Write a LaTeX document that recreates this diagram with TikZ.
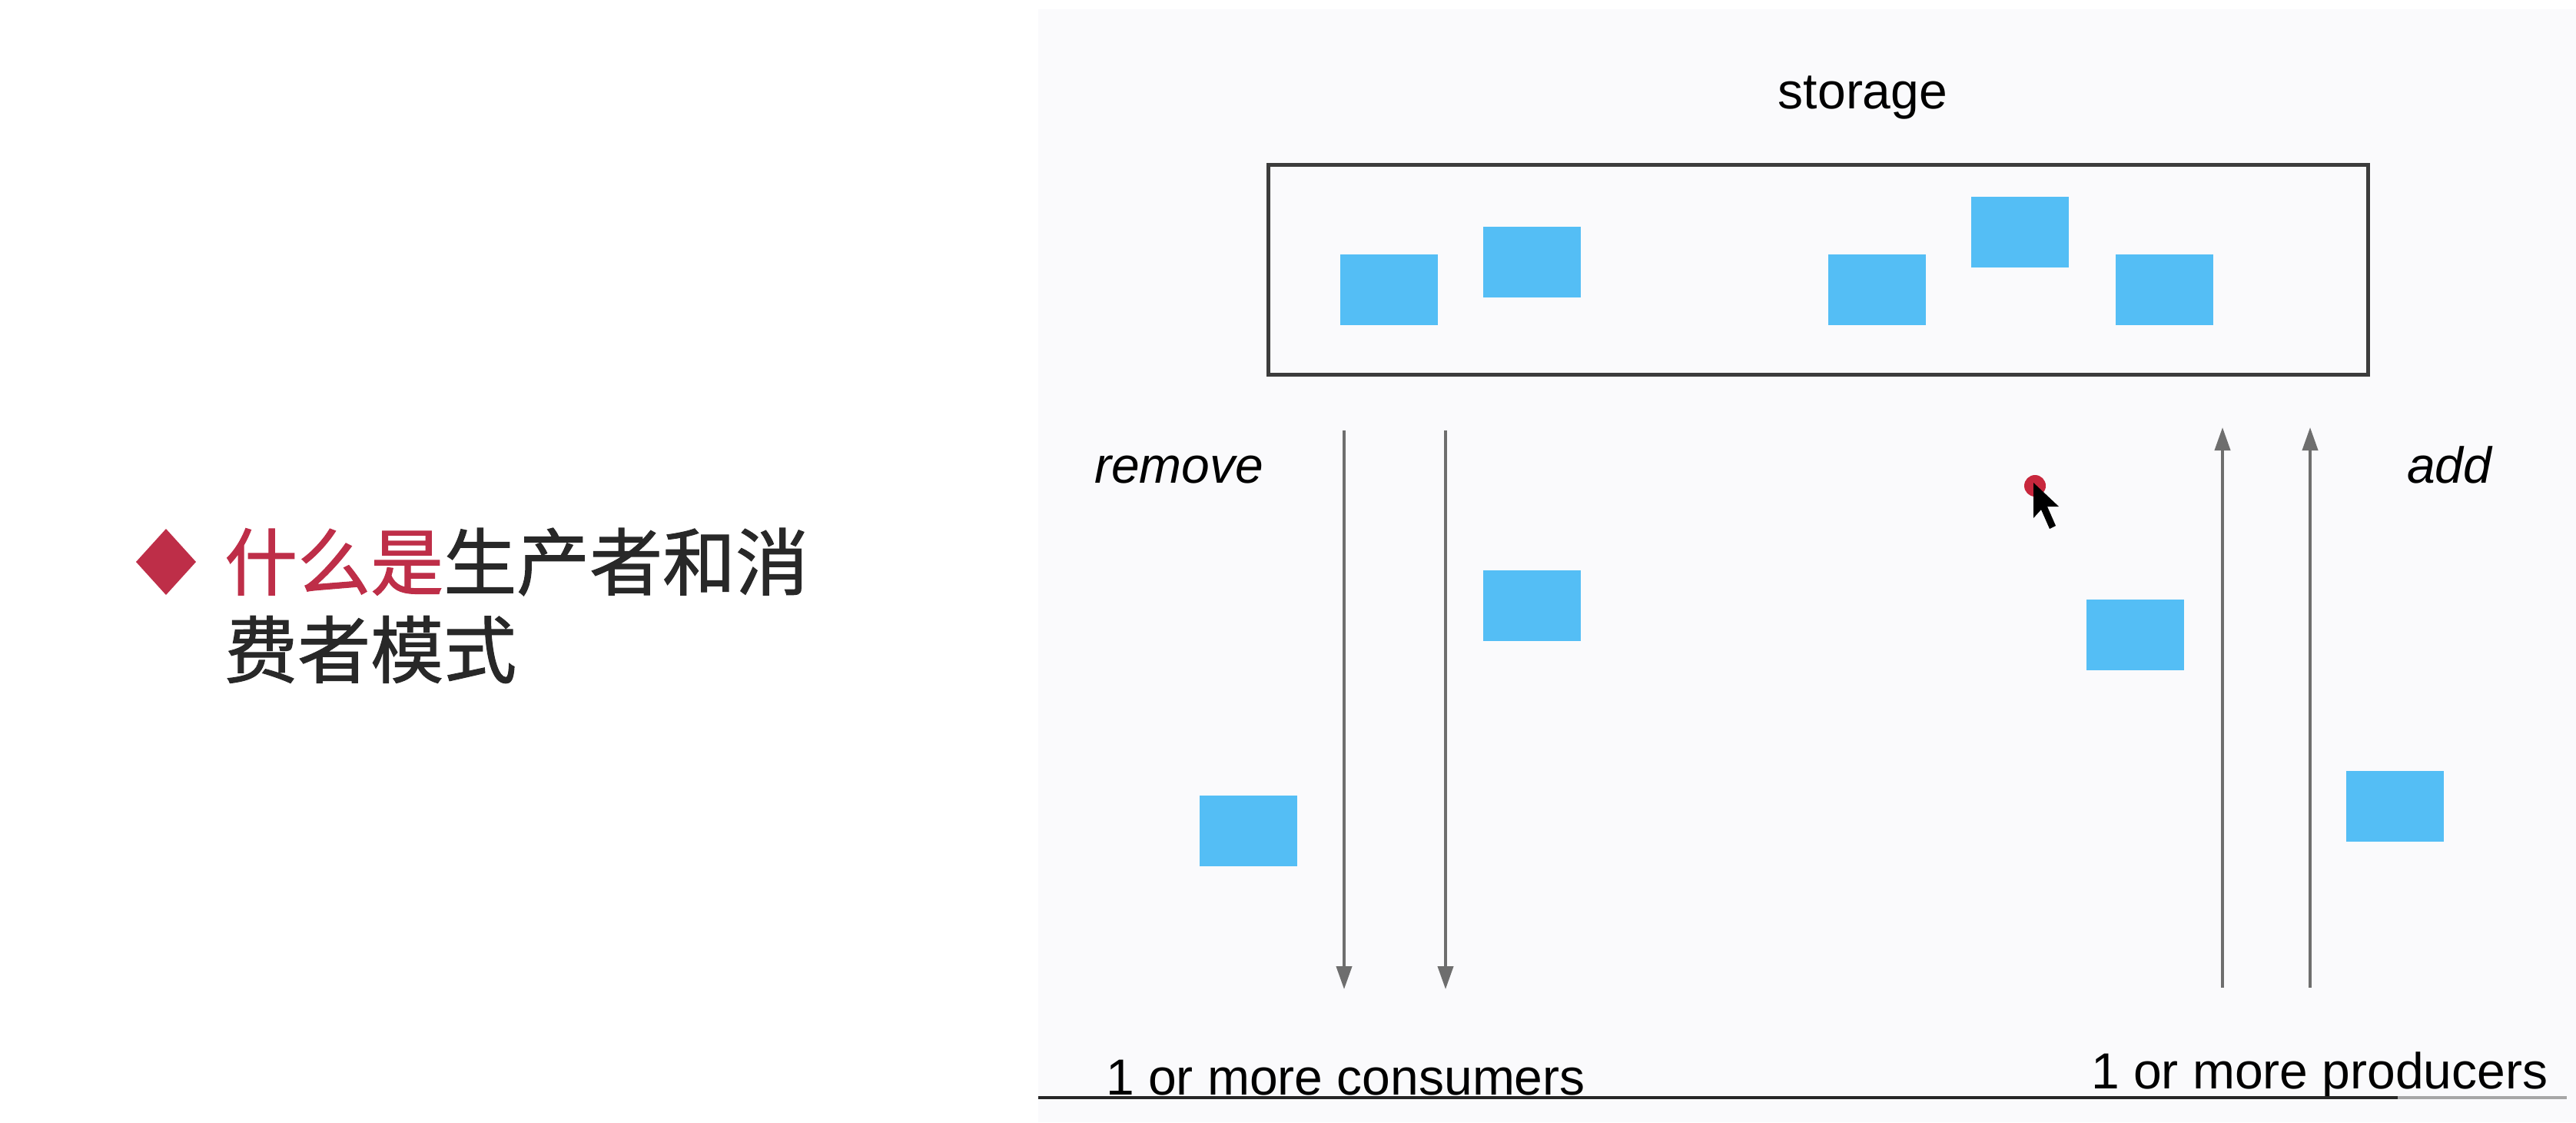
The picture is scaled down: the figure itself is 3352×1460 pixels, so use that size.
\documentclass[tikz,border=0pt]{standalone}
\usepackage{fontspec}
\setmainfont{Liberation Sans}
\newfontfamily\cjk[FakeBold=1.2]{Noto Sans CJK SC}
\usetikzlibrary{arrows.meta}
\definecolor{itemblue}{RGB}{84,190,245}
\definecolor{crimson}{RGB}{190,46,72}
\definecolor{darktext}{RGB}{40,40,40}
\definecolor{arrowgray}{RGB}{110,110,110}
\definecolor{boxgray}{RGB}{60,60,60}
\definecolor{panel}{RGB}{250,250,252}
\tikzset{
  item/.style={fill=itemblue, draw=none, minimum width=127pt, minimum height=92pt, inner sep=0pt},
  lbl/.style={font=\fontsize{66}{79}\selectfont, text=black, inner sep=0pt},
  flow/.style={draw=arrowgray, line width=4pt, -{Triangle[length=30pt,width=20pt]}},
  cjktext/.style={font=\cjk\fontsize{95}{114}\selectfont, text=darktext, inner sep=0pt, anchor=west}
}
\begin{document}
\begin{tikzpicture}[x=1pt,y=-1pt]
\useasboundingbox (0,0) rectangle (3352,1460);
\fill[white] (0,0) rectangle (3352,1460);
\fill[panel] (1351,12) rectangle (3352,1460);

% left bullet
\fill[crimson] (216,688) -- (255,731) -- (216,774) -- (177,731) -- cycle;
\node[cjktext] (t1) at (292,731) {\textcolor{crimson}{什么是}生产者和消};
\node[cjktext] (t2) at (292,845) {费者模式};

% storage
\node[lbl, anchor=base] (storagelbl) at (2424,141) {storage};
\node[draw=boxgray, line width=5pt, minimum width=1431pt, minimum height=273pt, inner sep=0pt] (store) at (2365.5,350.5) {};

\node[item] (s1) at (1807,377) {};
\node[item] (s2) at (1993,341) {};
\node[item] (s3) at (2442,377) {};
\node[item] (s4) at (2628,302) {};
\node[item] (s5) at (2816,377) {};

\node[item] (c1) at (1993,788) {};
\node[item] (c2) at (1624,1081) {};
\node[item] (p1) at (2778,826) {};
\node[item] (p2) at (3116,1049) {};

% arrows
\coordinate (d1a) at (1749,560); \coordinate (d1b) at (1749,1287);
\coordinate (d2a) at (1881,560); \coordinate (d2b) at (1881,1287);
\coordinate (u1a) at (2892,1285); \coordinate (u1b) at (2892,556);
\coordinate (u2a) at (3006,1285); \coordinate (u2b) at (3006,556);
\draw[flow] (d1a) -- (d1b);
\draw[flow] (d2a) -- (d2b);
\draw[flow] (u1a) -- (u1b);
\draw[flow] (u2a) -- (u2b);

\node[lbl, anchor=base west, font=\fontsize{66}{79}\selectfont\itshape] (rm) at (1424,628) {remove};
\node[lbl, anchor=base west, font=\fontsize{66}{79}\selectfont\itshape] (ad) at (3132,628) {add};

\node[lbl, anchor=base west] (cons) at (1439,1424) {1 or more consumers};
\node[lbl, anchor=base west] (prod) at (2721,1416) {1 or more producers};

% baseline
\coordinate (la) at (1351,1428); \coordinate (lb) at (3120,1428); \coordinate (lc) at (3340,1428);
\draw[line width=4pt, black!85] (la) -- (lb);
\draw[line width=4pt, black!35] (lb) -- (lc);

% cursor
\fill[crimson!85!red] (2648,632) circle (14);
\fill[black] (2646,628) -- (2646,674) -- (2656,663) -- (2667,688) -- (2675,684) -- (2664,659) -- (2679,659) -- cycle;
\end{tikzpicture}
\end{document}
